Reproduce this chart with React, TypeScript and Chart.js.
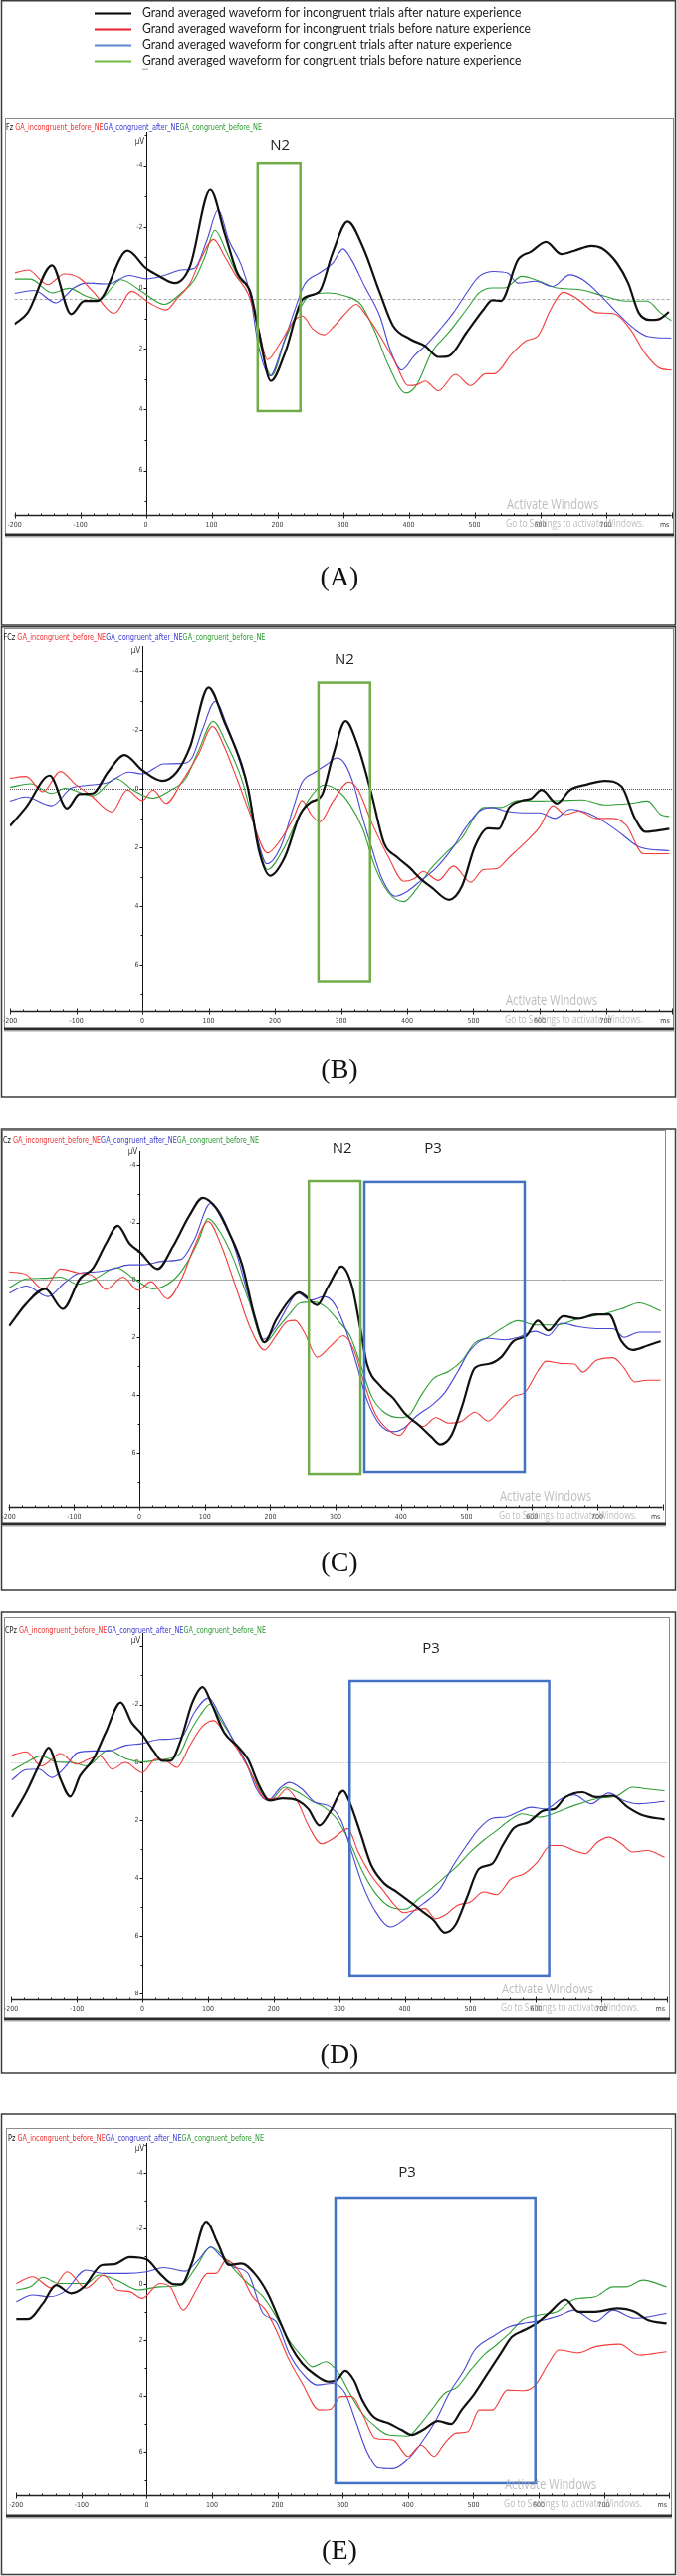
import React, { useEffect, useRef } from "react";
import { Chart, registerables } from "chart.js";

Chart.register(...registerables);

type Pt = [number, number];

// ---------------- Data: [time (ms), amplitude (µV)] ----------------
// Panel A — Fz
const fzIncongAfter: Pt[] = [[-200,1.19],[-180,0.81],[-143,-0.74],[-114,0.86],[-94,0.43],[-74,0.43],[-28,-1.22],[0,-0.65],[21,-0.38],[44,-0.16],[67,-0.70],[98,-3.22],[120,-1.78],[139,-0.49],[159,0.16],[172,1.46],[190,3.06],[212,2.11],[238,0.38],[264,0.11],[284,-1.14],[307,-2.18],[330,-1.35],[356,0.16],[376,1.24],[402,1.68],[425,1.91],[445,2.27],[461,2.24],[488,1.46],[514,0.70],[527,0.40],[540,0.43],[566,-0.92],[586,-1.19],[609,-1.51],[632,-1.11],[652,-1.22],[678,-1.38],[694,-1.30],[717,-0.81],[734,-0.16],[750,0.81],[767,1.05],[780,1.03],[796,0.79]];
const fzIncongBefore: Pt[] = [[-200,-0.49],[-179,-0.59],[-150,-0.11],[-124,-0.46],[-101,-0.32],[-81,0.11],[-48,0.83],[-22,0.11],[5,0.49],[31,0.72],[47,0.36],[67,-0.14],[83,-0.92],[103,-1.59],[120,-1.03],[136,-0.43],[156,0.22],[170,1.24],[185,2.36],[205,1.78],[225,1.08],[238,0.92],[254,1.35],[271,1.54],[287,1.24],[304,0.83],[320,0.54],[336,0.92],[356,1.57],[379,2.43],[399,3.21],[412,3.19],[425,3.06],[445,3.38],[471,2.84],[494,3.21],[517,2.82],[530,2.82],[557,2.16],[579,1.73],[596,1.59],[616,0.70],[635,0.14],[658,0.38],[685,0.81],[711,0.84],[737,1.35],[760,2.16],[783,2.65],[800,2.70]];
const fzCongAfter: Pt[] = [[-200,0.18],[-170,0.08],[-137,0.49],[-110,0.0],[-91,-0.16],[-58,-0.13],[-25,-0.41],[1,-0.30],[28,-0.41],[54,-0.59],[74,-0.65],[93,-1.57],[110,-2.56],[126,-1.57],[146,-0.70],[159,0.27],[171,1.89],[189,2.89],[208,1.89],[225,0.81],[241,-0.11],[264,-0.49],[284,-0.81],[300,-1.28],[313,-0.92],[333,-0.05],[356,0.92],[373,2.11],[389,2.70],[409,2.22],[428,1.84],[448,1.35],[468,0.81],[488,0.16],[507,-0.38],[530,-0.54],[550,-0.49],[566,-0.16],[593,-0.22],[619,-0.05],[645,-0.43],[665,-0.27],[691,0.22],[717,0.81],[744,1.35],[763,1.59],[800,1.65]];
const fzCongBefore: Pt[] = [[-200,-0.29],[-176,-0.29],[-143,0.16],[-117,0.01],[-91,0.27],[-71,0.38],[-38,-0.27],[-5,0.14],[28,0.54],[54,0.16],[74,-0.27],[90,-1.03],[105,-1.89],[123,-1.16],[143,-0.27],[159,0.11],[172,1.68],[191,2.89],[212,1.68],[231,0.81],[248,0.27],[277,0.16],[304,0.27],[327,0.54],[349,1.46],[369,2.54],[396,3.46],[412,3.19],[435,2.11],[461,1.46],[488,0.70],[507,0.16],[527,0.0],[546,0.0],[572,-0.38],[599,-0.22],[625,0.0],[658,0.05],[698,0.27],[730,0.43],[763,0.43],[783,0.81],[800,1.08]];

// Panel B — FCz
const fczIncongAfter: Pt[] = [[-200,1.27],[-176,0.64],[-140,-0.45],[-114,0.67],[-95,0.18],[-75,0.16],[-52,-0.57],[-27,-1.15],[0,-0.63],[30,-0.27],[52,-0.57],[72,-1.42],[100,-3.45],[124,-2.27],[150,-0.81],[160,0.04],[176,2.10],[193,2.97],[215,2.34],[238,0.88],[254,0.46],[271,0.22],[287,-1.05],[307,-2.30],[326,-1.42],[346,0.16],[365,1.85],[385,2.34],[404,2.70],[421,3.09],[437,3.37],[463,3.79],[483,3.31],[502,1.98],[522,1.35],[538,1.37],[554,0.64],[574,0.40],[587,0.34],[603,0.04],[626,0.50],[646,0.04],[672,-0.15],[698,-0.27],[724,-0.08],[744,1.01],[760,1.47],[796,1.37]];
const fczIncongBefore: Pt[] = [[-200,-0.36],[-176,-0.42],[-150,0.10],[-124,-0.59],[-101,-0.15],[-78,0.22],[-46,0.79],[-23,0.04],[0,0.40],[16,0.04],[36,0.50],[59,-0.21],[85,-1.18],[106,-2.12],[124,-1.42],[143,-0.33],[163,0.88],[189,2.19],[209,1.73],[228,1.01],[241,0.40],[255,0.88],[268,1.13],[287,0.46],[312,-0.23],[326,0.04],[346,1.13],[372,2.34],[395,3.16],[411,3.07],[424,2.82],[447,3.13],[470,2.64],[496,3.19],[515,2.76],[535,2.73],[554,2.34],[580,1.79],[600,1.31],[620,0.58],[639,0.88],[659,0.76],[685,1.01],[711,1.01],[731,1.25],[757,2.22],[796,2.22]];
const fczCongAfter: Pt[] = [[-200,0.42],[-176,0.28],[-137,0.58],[-108,-0.02],[-85,-0.11],[-52,-0.21],[-20,-0.57],[0,-0.51],[33,-0.85],[59,-0.86],[75,-1.05],[91,-2.02],[110,-2.97],[128,-2.15],[147,-0.93],[160,0.04],[173,1.61],[188,2.56],[209,1.98],[228,0.64],[241,-0.21],[261,-0.57],[281,-0.87],[294,-1.05],[307,-0.81],[320,-0.08],[333,1.01],[346,1.98],[362,3.07],[382,3.67],[401,3.49],[421,3.13],[444,2.70],[470,1.98],[489,1.31],[509,0.76],[529,0.64],[548,0.76],[574,0.82],[600,0.82],[623,1.01],[646,0.70],[672,0.82],[698,1.13],[724,1.55],[750,1.98],[796,2.12]];
const fczCongBefore: Pt[] = [[-200,-0.05],[-169,-0.17],[-137,0.16],[-117,-0.02],[-75,0.24],[-40,-0.35],[-13,0.06],[16,0.32],[42,0.06],[65,-0.33],[85,-1.30],[107,-2.29],[127,-1.54],[150,-0.33],[166,1.01],[189,2.76],[212,2.10],[235,1.01],[254,0.28],[274,-0.13],[294,0.04],[313,0.52],[333,1.37],[352,2.70],[372,3.55],[395,3.85],[414,3.43],[437,2.70],[463,2.10],[483,1.67],[502,0.95],[515,0.64],[541,0.64],[567,0.40],[600,0.42],[633,0.40],[665,0.38],[698,0.55],[737,0.50],[763,0.42],[783,0.88],[796,0.95]];

// Panel C — Cz
const czIncongAfter: Pt[] = [[-199,1.60],[-173,0.83],[-144,0.31],[-117,1.01],[-91,-0.04],[-71,-0.41],[-51,-1.27],[-33,-1.89],[-15,-1.27],[1,-0.97],[28,-0.38],[51,-1.15],[77,-2.26],[97,-2.86],[117,-2.51],[137,-1.65],[157,-0.53],[176,1.26],[191,2.17],[209,1.39],[229,0.71],[244,0.43],[272,0.87],[289,0.21],[309,-0.47],[325,0.21],[338,1.70],[348,2.93],[368,3.68],[388,4.11],[407,4.67],[427,5.04],[447,5.47],[460,5.72],[477,5.41],[493,4.42],[513,3.06],[533,2.93],[553,2.69],[572,2.13],[592,1.94],[609,1.42],[625,1.76],[648,1.26],[671,1.35],[698,1.20],[718,1.20],[737,2.13],[754,2.44],[777,2.29],[797,2.13]];
const czIncongBefore: Pt[] = [[-199,-0.28],[-173,-0.19],[-147,0.33],[-121,-0.38],[-94,-0.25],[-71,-0.14],[-51,0.33],[-25,-0.10],[-2,0.36],[18,0.06],[43,0.66],[64,-0.01],[84,-1.15],[105,-2.04],[124,-1.27],[147,0.21],[170,1.70],[191,2.44],[209,1.94],[226,1.45],[238,1.41],[252,1.82],[272,2.69],[292,2.31],[312,1.94],[328,2.44],[345,3.68],[361,4.67],[381,5.22],[398,5.41],[417,4.91],[434,5.10],[453,4.79],[473,4.98],[493,4.91],[513,4.60],[533,4.91],[553,4.48],[572,4.05],[589,3.92],[609,3.18],[622,2.83],[645,2.91],[665,2.93],[678,3.21],[698,2.81],[724,2.71],[741,3.06],[757,3.55],[777,3.49],[797,3.49]];
const czCongAfter: Pt[] = [[-199,0.46],[-173,0.21],[-140,0.58],[-114,0.09],[-94,-0.22],[-68,-0.28],[-41,-0.38],[-15,-0.53],[5,-0.53],[38,-0.66],[64,-0.72],[84,-1.40],[109,-2.67],[127,-2.20],[147,-1.03],[167,0.58],[190,2.07],[209,1.63],[226,0.95],[242,0.46],[262,0.71],[282,0.58],[298,0.83],[315,1.70],[332,2.93],[348,4.17],[368,5.04],[388,5.28],[404,5.16],[424,4.73],[447,4.36],[467,3.92],[487,3.18],[506,2.44],[533,2.04],[559,2.09],[579,2.00],[605,1.79],[625,1.94],[645,1.51],[671,1.63],[698,1.70],[724,1.70],[741,2.00],[764,1.82],[797,1.82]];
const czCongBefore: Pt[] = [[-199,0.27],[-173,-0.04],[-147,-0.06],[-121,-0.10],[-94,0.15],[-68,-0.04],[-35,-0.43],[-9,-0.06],[21,0.31],[51,0.02],[71,-0.53],[91,-1.40],[105,-2.14],[124,-1.65],[143,-0.78],[167,0.71],[191,2.19],[213,1.63],[229,1.20],[246,0.80],[266,0.77],[285,0.95],[305,1.45],[322,1.94],[338,2.93],[355,4.05],[374,4.60],[398,4.79],[414,4.67],[430,4.05],[450,3.43],[473,3.18],[493,2.81],[513,2.19],[533,2.00],[553,1.70],[579,1.42],[605,1.57],[638,1.57],[671,1.35],[711,1.18],[737,1.01],[764,0.80],[797,1.08]];

// Panel D — CPz
const cpzIncongAfter: Pt[] = [[-199,1.90],[-177,1.04],[-158,0.13],[-143,-0.50],[-125,0.58],[-110,1.19],[-95,0.47],[-75,-0.10],[-56,-1.02],[-33,-2.07],[-16,-1.36],[0,-0.96],[17,-0.39],[30,-0.05],[43,-0.05],[59,-0.79],[76,-2.05],[92,-2.60],[105,-2.05],[125,-1.02],[145,-0.56],[161,-0.10],[178,0.81],[194,1.33],[214,1.25],[237,1.33],[253,1.62],[270,2.19],[286,1.73],[306,0.99],[316,1.39],[332,2.42],[349,3.56],[369,4.19],[388,4.48],[408,4.82],[428,5.17],[444,5.45],[461,5.88],[477,5.62],[494,4.71],[513,3.68],[533,3.51],[549,2.88],[566,2.28],[589,2.07],[612,1.67],[628,1.62],[645,1.21],[671,1.04],[691,1.21],[717,1.16],[740,1.56],[763,1.84],[796,1.98]];
const cpzIncongBefore: Pt[] = [[-199,-0.24],[-177,-0.36],[-154,0.13],[-125,-0.30],[-101,0.07],[-82,-0.10],[-65,-0.22],[-46,0.24],[-26,0.01],[0,0.36],[20,-0.10],[36,-0.05],[53,0.18],[72,-0.56],[92,-1.25],[109,-1.44],[125,-1.02],[145,-0.45],[165,0.36],[188,1.27],[204,1.25],[220,0.93],[237,1.39],[253,2.19],[273,2.82],[290,2.65],[313,2.30],[329,3.10],[349,3.91],[369,4.48],[385,4.94],[398,5.19],[415,5.11],[431,5.05],[447,5.40],[461,5.28],[480,4.94],[500,4.82],[520,4.48],[540,4.57],[562,4.02],[582,3.85],[602,3.45],[622,2.88],[638,2.88],[658,3.05],[675,3.16],[694,2.76],[711,2.59],[730,2.82],[747,3.10],[770,3.05],[796,3.28]];
const cpzCongAfter: Pt[] = [[-199,0.61],[-177,0.26],[-158,0.24],[-138,0.53],[-118,0.18],[-99,-0.33],[-75,-0.39],[-52,-0.39],[-26,-0.58],[0,-0.65],[26,-0.79],[59,-0.85],[79,-1.71],[101,-2.22],[119,-1.59],[138,-0.79],[158,0.01],[174,0.93],[191,1.33],[211,0.87],[224,0.70],[243,0.93],[263,1.39],[283,1.50],[303,2.02],[319,3.10],[336,4.25],[356,5.17],[378,5.68],[398,5.45],[418,5.05],[438,4.71],[454,4.36],[474,3.56],[494,2.88],[513,2.30],[533,1.94],[553,1.90],[572,1.73],[592,1.56],[615,1.62],[638,1.27],[658,1.13],[684,1.44],[711,1.07],[734,1.33],[757,1.44],[796,1.36]];
const cpzCongBefore: Pt[] = [[-199,0.30],[-177,0.01],[-154,-0.22],[-131,-0.01],[-108,0.01],[-85,0.13],[-52,-0.42],[-26,-0.13],[0,-0.01],[26,-0.08],[56,-0.27],[72,-1.02],[89,-1.65],[104,-2.02],[119,-1.48],[138,-0.79],[158,0.01],[178,0.93],[194,1.33],[217,0.87],[237,1.04],[257,1.33],[277,1.56],[296,1.96],[316,2.76],[336,3.79],[356,4.54],[378,4.99],[401,5.07],[421,4.71],[441,4.36],[461,3.96],[481,3.56],[500,3.10],[520,2.70],[540,2.36],[559,2.02],[579,1.79],[605,1.90],[632,1.73],[658,1.50],[691,1.27],[724,1.16],[747,0.87],[770,0.93],[796,0.99]];

// Panel E — Pz
const pzIncongAfter: Pt[] = [[-200,1.25],[-182,1.25],[-159,0.69],[-139,0.04],[-116,0.33],[-96,0.10],[-69,-0.68],[-50,-0.71],[-26,-0.97],[0,-0.88],[20,-0.38],[40,0.0],[53,0.01],[69,-0.74],[91,-2.24],[109,-1.45],[126,-0.68],[145,-0.74],[165,-0.38],[185,0.33],[205,1.40],[221,2.23],[238,2.83],[258,3.24],[278,3.48],[291,3.42],[304,3.09],[317,3.42],[330,4.13],[347,4.73],[370,4.96],[390,5.20],[406,5.38],[423,5.20],[446,4.88],[466,4.99],[482,4.49],[502,3.90],[522,3.18],[542,2.47],[559,1.88],[578,1.64],[598,1.38],[618,0.99],[641,0.55],[661,0.99],[687,0.99],[720,0.87],[747,0.99],[767,1.28],[796,1.40]];
const pzIncongBefore: Pt[] = [[-200,-0.02],[-175,-0.26],[-145,0.15],[-122,-0.44],[-93,0.15],[-66,-0.32],[-46,0.21],[-26,0.27],[-7,0.51],[20,-0.02],[36,0.10],[56,0.93],[76,0.21],[93,-0.38],[106,-0.38],[122,-0.86],[142,-0.44],[162,0.45],[182,0.93],[198,1.64],[218,2.71],[238,3.54],[264,4.49],[281,4.47],[297,4.01],[314,4.01],[330,4.61],[350,5.50],[377,5.56],[400,6.15],[420,5.74],[440,6.15],[456,5.68],[473,5.32],[492,5.26],[509,4.49],[529,4.49],[552,3.78],[578,3.80],[595,3.60],[615,2.83],[631,2.35],[661,2.45],[687,2.23],[724,2.14],[754,2.53],[796,2.41]];
const pzCongAfter: Pt[] = [[-200,0.63],[-175,0.39],[-149,0.45],[-126,0.27],[-93,-0.50],[-66,-0.38],[-33,-0.38],[0,-0.44],[26,-0.59],[59,-0.46],[79,-0.86],[98,-1.33],[112,-1.03],[132,-0.62],[155,-0.38],[178,1.05],[198,1.34],[218,2.47],[238,3.18],[261,3.60],[284,3.54],[304,3.90],[321,4.96],[337,5.97],[354,6.57],[377,6.60],[397,6.33],[420,5.68],[443,4.85],[463,3.90],[486,3.06],[502,2.35],[529,1.88],[555,1.52],[582,1.38],[608,1.28],[634,1.10],[654,0.93],[687,1.34],[714,0.93],[747,1.22],[796,1.05]];
const pzCongBefore: Pt[] = [[-200,0.21],[-178,0.10],[-159,-0.24],[-135,-0.02],[-119,-0.02],[-93,-0.02],[-73,-0.32],[-46,-0.14],[-13,0.21],[20,0.10],[53,0.04],[76,-0.62],[98,-1.33],[116,-1.03],[135,-0.50],[155,-0.02],[178,0.45],[198,1.16],[218,2.0],[238,2.59],[254,2.95],[274,2.77],[294,3.18],[311,3.90],[330,4.61],[350,5.08],[370,5.38],[400,5.42],[416,5.08],[436,4.49],[456,3.90],[476,3.66],[496,3.06],[516,2.53],[535,2.17],[555,1.76],[575,1.28],[601,1.10],[628,0.99],[654,0.55],[687,0.45],[714,0.10],[734,0.10],[760,-0.14],[796,0.10]];

// Axis ticks / labels
const X_LABEL_TICKS = [-200, -100, 0, 100, 200, 300, 400, 500, 600, 700];
const Y_LABELS_STD = [-4, -2, 0, 2, 4, 6];
const Y_LABELS_D = [-2, 0, 2, 4, 6, 8];
const CONDITION_NAMES = ["GA_incongruent_before_NE", "GA_congruent_after_NE", "GA_congruent_before_NE"];
const LEGEND_TEXT = [
  "Grand averaged waveform for incongruent trials after nature experience",
  "Grand averaged waveform for incongruent trials before nature experience",
  "Grand averaged waveform for congruent trials after nature experience",
  "Grand averaged waveform for congruent trials before nature experience",
];

// ROI windows: [startMs, endMs], [topµV, bottomµV]
const FZ_N2 = { t: [170, 235], v: [-4.08, 4.05] };
const FCZ_N2 = { t: [266, 344], v: [-3.61, 6.56] };
const CZ_N2 = { t: [259, 338], v: [-3.44, 6.74] };
const CZ_P3 = { t: [344, 589], v: [-3.41, 6.67] };
const CPZ_P3 = { t: [316, 620], v: [-2.81, 7.36] };
const PZ_P3 = { t: [289, 595], v: [-3.10, 7.12] };

// ---------------- Styles ----------------
const SERIES_COLORS = ["#111111", "#f23c3c", "#4848d4", "#2f9f35"];
const SERIES_WIDTHS = [2.2, 1.1, 1.1, 1.1];
const LEGEND_COLORS = ["#000000", "#e8202a", "#5a86cf", "#6cbd3e"];
const TITLE_COLORS = ["#111111", "#f03030", "#3a3ad0", "#2a9a30"];
const ROI_GREEN = "#70ad47";
const ROI_BLUE = "#4472c4";
const SMALL_FONT = "'DejaVu Sans Condensed', 'DejaVu Sans', sans-serif";

interface Roi { t: number[]; v: number[]; color: string; label: string; labelT: number; labelY: number }
interface PanelCfg {
  key: string; electrode: string; top: number; height: number;
  outer: number[]; inner: number[];
  titleX: number; titleY: number; titleW: number; uvY: number;
  plot: number[]; yRange: number[]; yLabels: number[];
  baseline: { v: number; color: string; dash: number[] } | null;
  caption: string; captionY: number; wmX: number;
  rois: Roi[]; series: Pt[][];
}

const PANELS: PanelCfg[] = [
  {
    key: "A", electrode: "Fz", top: 0, height: 629,
    outer: [1.5, 0.75, 678.5, 628], inner: [5, 119, 676, 537],
    titleX: 6, titleY: 129, titleW: 257, uvY: 143,
    plot: [14.6, 133, 674.6, 517], yRange: [-5.1, 7.45], yLabels: Y_LABELS_STD,
    baseline: { v: 0.35, color: "#a8a8a8", dash: [3, 2] },
    caption: "(A)", captionY: 581, wmX: 509,
    rois: [{ ...FZ_N2, color: ROI_GREEN, label: "N2", labelT: 204, labelY: 147 }],
    series: [fzIncongAfter, fzIncongBefore, fzCongAfter, fzCongBefore],
  },
  {
    key: "B", electrode: "FCz", top: 629, height: 474,
    outer: [1.5, 629.75, 678.5, 1102], inner: [4, 631, 676, 1033],
    titleX: 3.5, titleY: 641, titleW: 263, uvY: 654,
    plot: [10, 649, 675, 1015], yRange: [-4.85, 7.56], yLabels: Y_LABELS_STD,
    baseline: { v: 0, color: "#555555", dash: [1, 1] },
    caption: "(B)", captionY: 1076, wmX: 508,
    rois: [{ ...FCZ_N2, color: ROI_GREEN, label: "N2", labelT: 305, labelY: 663 }],
    series: [fczIncongAfter, fczIncongBefore, fczCongAfter, fczCongBefore],
  },
  {
    key: "C", electrode: "Cz", top: 1133, height: 465,
    outer: [1.5, 1134, 678.5, 1597], inner: [2, 1135, 668, 1531],
    titleX: 3, titleY: 1146, titleW: 257, uvY: 1157,
    plot: [8.6, 1156, 665.6, 1513], yRange: [-4.48, 7.88], yLabels: Y_LABELS_STD,
    baseline: { v: 0, color: "#555555", dash: [1, 1] },
    caption: "(C)", captionY: 1571, wmX: 502,
    rois: [
      { ...CZ_N2, color: ROI_GREEN, label: "N2", labelT: 310, labelY: 1154 },
      { ...CZ_P3, color: ROI_BLUE, label: "P3", labelT: 449, labelY: 1154 },
    ],
    series: [czIncongAfter, czIncongBefore, czCongAfter, czCongBefore],
  },
  {
    key: "D", electrode: "CPz", top: 1618, height: 466,
    outer: [1.5, 1619, 678.5, 2082], inner: [4, 1624, 672, 2028],
    titleX: 5, titleY: 1638, titleW: 262, uvY: 1648,
    plot: [11.2, 1640, 670.2, 2008], yRange: [-4.46, 8.19], yLabels: Y_LABELS_D,
    baseline: { v: 0, color: "#bdbdbd", dash: [1, 1] },
    caption: "(D)", captionY: 2065, wmX: 504,
    rois: [{ ...CPZ_P3, color: ROI_BLUE, label: "P3", labelT: 440, labelY: 1656 }],
    series: [cpzIncongAfter, cpzIncongBefore, cpzCongAfter, cpzCongBefore],
  },
  {
    key: "E", electrode: "Pz", top: 2122, height: 465,
    outer: [1.5, 2123, 678.5, 2585.5], inner: [6, 2137, 674, 2527],
    titleX: 8, titleY: 2148, titleW: 257, uvY: 2158,
    plot: [16.2, 2152, 672.2, 2506], yRange: [-5.06, 7.55], yLabels: Y_LABELS_STD,
    baseline: null,
    caption: "(E)", captionY: 2563, wmX: 507,
    rois: [{ ...PZ_P3, color: ROI_BLUE, label: "P3", labelT: 399, labelY: 2182 }],
    series: [pzIncongAfter, pzIncongBefore, pzCongAfter, pzCongBefore],
  },
];

function fitFill(ctx: CanvasRenderingContext2D, text: string, x: number, y: number, w: number, font: string, color: string) {
  ctx.save();
  ctx.font = font;
  const m = ctx.measureText(text).width || 1;
  ctx.translate(x, y);
  ctx.scale(w / m, 1);
  ctx.fillStyle = color;
  ctx.textAlign = "left";
  ctx.textBaseline = "middle";
  ctx.fillText(text, 0, 0);
  ctx.restore();
}

function line(ctx: CanvasRenderingContext2D, x0: number, y0: number, x1: number, y1: number) {
  ctx.beginPath();
  ctx.moveTo(x0, y0);
  ctx.lineTo(x1, y1);
  ctx.stroke();
}

function decorPlugin(p: PanelCfg) {
  const T = (y: number) => y - p.top;
  return {
    id: "decor" + p.key,
    beforeDatasetsDraw(chart: any) {
      const ctx: CanvasRenderingContext2D = chart.ctx;
      const xs = chart.scales.x;
      const ys = chart.scales.y;
      const area = chart.chartArea;
      ctx.save();

      // outer frame
      const [ox0, oy0, ox1, oy1] = p.outer;
      ctx.strokeStyle = "#3c3c3c";
      ctx.lineWidth = 1.5;
      ctx.strokeRect(ox0, T(oy0), ox1 - ox0, oy1 - oy0);

      // inner chart frame
      const [ix0, iy0, ix1, iy1] = p.inner;
      ctx.strokeStyle = "#8c8c8c";
      ctx.lineWidth = 1;
      ctx.strokeRect(ix0 + 0.5, T(iy0) + 0.5, ix1 - ix0, iy1 - iy0);
      ctx.fillStyle = "#2c2c2c";
      ctx.fillRect(ix0, T(iy1) - 1.5, ix1 - ix0 + 1, 2.5);
      ctx.fillStyle = "#a8a8a8";
      ctx.fillRect(ix0, T(iy1) + 1, ix1 - ix0 + 1, 1.5);

      // legend (panel A only)
      if (p.key === "A") {
        const rows = [13, 29, 45, 61];
        ctx.font = "13px Lato, 'Open Sans', sans-serif";
        const ref = ctx.measureText(LEGEND_TEXT[1]).width || 1;
        const sx = 390 / ref;
        LEGEND_TEXT.forEach((txt, i) => {
          ctx.strokeStyle = LEGEND_COLORS[i];
          ctx.lineWidth = 2;
          line(ctx, 95, rows[i] + 0.5, 132, rows[i] + 0.5);
          ctx.save();
          ctx.font = "13px Lato, 'Open Sans', sans-serif";
          ctx.translate(143, rows[i]);
          ctx.scale(sx, 1);
          ctx.fillStyle = "#1a1a1a";
          ctx.textBaseline = "middle";
          ctx.fillText(txt, 0, 0);
          ctx.restore();
        });
        ctx.fillStyle = "#bbbbbb";
        ctx.fillRect(143, 68.5, 6, 1.5);
      }

      // title (electrode + condition names)
      {
        const parts = [p.electrode + " ", ...CONDITION_NAMES];
        ctx.font = "8px " + SMALL_FONT;
        const widths = parts.map((s) => ctx.measureText(s).width);
        const total = widths.reduce((a, b) => a + b, 0) || 1;
        ctx.save();
        ctx.translate(p.titleX, T(p.titleY));
        ctx.scale(p.titleW / total, 1);
        ctx.textBaseline = "middle";
        let cx = 0;
        parts.forEach((s, i) => {
          ctx.fillStyle = TITLE_COLORS[i];
          ctx.fillText(s, cx, 0);
          cx += widths[i];
        });
        ctx.restore();
      }

      const ax = Math.round(xs.getPixelForValue(0)) + 0.5;
      // µV label
      ctx.fillStyle = "#333";
      ctx.font = "8px " + SMALL_FONT;
      ctx.textAlign = "center";
      ctx.textBaseline = "middle";
      ctx.fillText("µV", ax - 7, T(p.uvY));

      // baseline
      if (p.baseline) {
        ctx.save();
        ctx.strokeStyle = p.baseline.color;
        ctx.lineWidth = 1;
        ctx.setLineDash(p.baseline.dash);
        const by0 = Math.round(ys.getPixelForValue(p.baseline.v)) + 0.5;
        line(ctx, area.left, by0, area.right, by0);
        ctx.restore();
      }

      // y axis
      ctx.strokeStyle = "#111";
      ctx.lineWidth = 1;
      line(ctx, ax, area.top, ax, area.bottom);
      const [yMin, yMax] = p.yRange;
      for (let v = Math.ceil(yMin); v <= Math.floor(yMax); v++) {
        const y = Math.round(ys.getPixelForValue(v)) + 0.5;
        const len = v % 2 === 0 ? 3 : 2;
        line(ctx, ax - len, y, ax, y);
      }
      ctx.fillStyle = "#3a3a3a";
      ctx.font = "7px " + SMALL_FONT;
      ctx.textAlign = "right";
      p.yLabels.forEach((v) => {
        ctx.fillText(String(v), ax - 4, ys.getPixelForValue(v));
      });

      // x axis
      const by = Math.round(area.bottom) + 0.5;
      ctx.strokeStyle = "#222";
      ctx.lineWidth = 1.3;
      line(ctx, xs.getPixelForValue(-200), by, xs.getPixelForValue(800), by);
      ctx.lineWidth = 1;
      for (let t = -200; t <= 800; t += 20) {
        const x = Math.round(xs.getPixelForValue(t)) + 0.5;
        if (t % 100 === 0) line(ctx, x, by - 3, x, by + 3);
        else line(ctx, x, by - 2, x, by);
      }
      ctx.fillStyle = "#3a3a3a";
      ctx.font = "7px " + SMALL_FONT;
      ctx.textAlign = "center";
      X_LABEL_TICKS.forEach((t) => {
        ctx.fillText(String(t), xs.getPixelForValue(t), by + 10);
      });
      ctx.fillText("ms", area.right - 7, by + 10);

      // caption
      ctx.fillStyle = "#111";
      ctx.font = "28px 'Liberation Serif', serif";
      ctx.textAlign = "center";
      ctx.textBaseline = "middle";
      ctx.fillText(p.caption, 341, T(p.captionY));
      ctx.restore();
    },
    afterDatasetsDraw(chart: any) {
      const ctx: CanvasRenderingContext2D = chart.ctx;
      const xs = chart.scales.x;
      const ys = chart.scales.y;
      const area = chart.chartArea;
      ctx.save();
      p.rois.forEach((r) => {
        const x0 = xs.getPixelForValue(r.t[0]);
        const x1 = xs.getPixelForValue(r.t[1]);
        const y0 = ys.getPixelForValue(r.v[0]);
        const y1 = ys.getPixelForValue(r.v[1]);
        ctx.strokeStyle = r.color;
        ctx.lineWidth = 2.5;
        ctx.strokeRect(x0, y0, x1 - x0, y1 - y0);
        ctx.fillStyle = "#1e1e1e";
        ctx.font = "15px 'Open Sans', sans-serif";
        ctx.textAlign = "center";
        ctx.textBaseline = "middle";
        ctx.fillText(r.label, xs.getPixelForValue(r.labelT), T(r.labelY));
      });
      // watermark
      const wc = "rgba(172,172,172,0.8)";
      fitFill(ctx, "Activate Windows", p.wmX, area.bottom - 10, 92, "14px 'Open Sans', sans-serif", wc);
      fitFill(ctx, "Go to Settings to activate Windows.", p.wmX - 1, area.bottom + 9, 139, "10px 'Open Sans', sans-serif", wc);
      ctx.restore();
    },
  };
}

function Panel({ cfg }: { cfg: PanelCfg }) {
  const ref = useRef<HTMLCanvasElement>(null);
  useEffect(() => {
    const canvas = ref.current;
    if (!canvas) return;
    const [px0, py0, px1, py1] = cfg.plot;
    const chart = new Chart(canvas, {
      type: "line",
      data: {
        datasets: cfg.series.map((s, i) => ({
          data: s.map(([x, y]) => ({ x, y })),
          borderColor: SERIES_COLORS[i],
          borderWidth: SERIES_WIDTHS[i],
          pointRadius: 0,
          fill: false,
          cubicInterpolationMode: "monotone" as const,
        })),
      },
      options: {
        responsive: false,
        maintainAspectRatio: false,
        devicePixelRatio: 1,
        animation: false,
        events: [],
        layout: {
          padding: { left: px0, right: 680 - px1, top: py0 - cfg.top, bottom: cfg.top + cfg.height - py1 },
        },
        plugins: { legend: { display: false }, tooltip: { enabled: false }, title: { display: false } },
        scales: {
          x: { type: "linear", min: -200, max: 800, display: false },
          y: { type: "linear", min: cfg.yRange[0], max: cfg.yRange[1], reverse: true, display: false },
        },
      },
      plugins: [decorPlugin(cfg)],
    } as any);
    return () => chart.destroy();
  }, [cfg]);
  return (
    <canvas
      ref={ref}
      width={680}
      height={cfg.height}
      style={{ position: "absolute", left: 0, top: cfg.top, width: 680, height: cfg.height }}
    />
  );
}

export default function App() {
  return (
    <div style={{ position: "absolute", left: 0, top: 0, width: 680, height: 2587, background: "#ffffff" }}>
      {PANELS.map((p) => (
        <Panel key={p.key} cfg={p} />
      ))}
    </div>
  );
}
